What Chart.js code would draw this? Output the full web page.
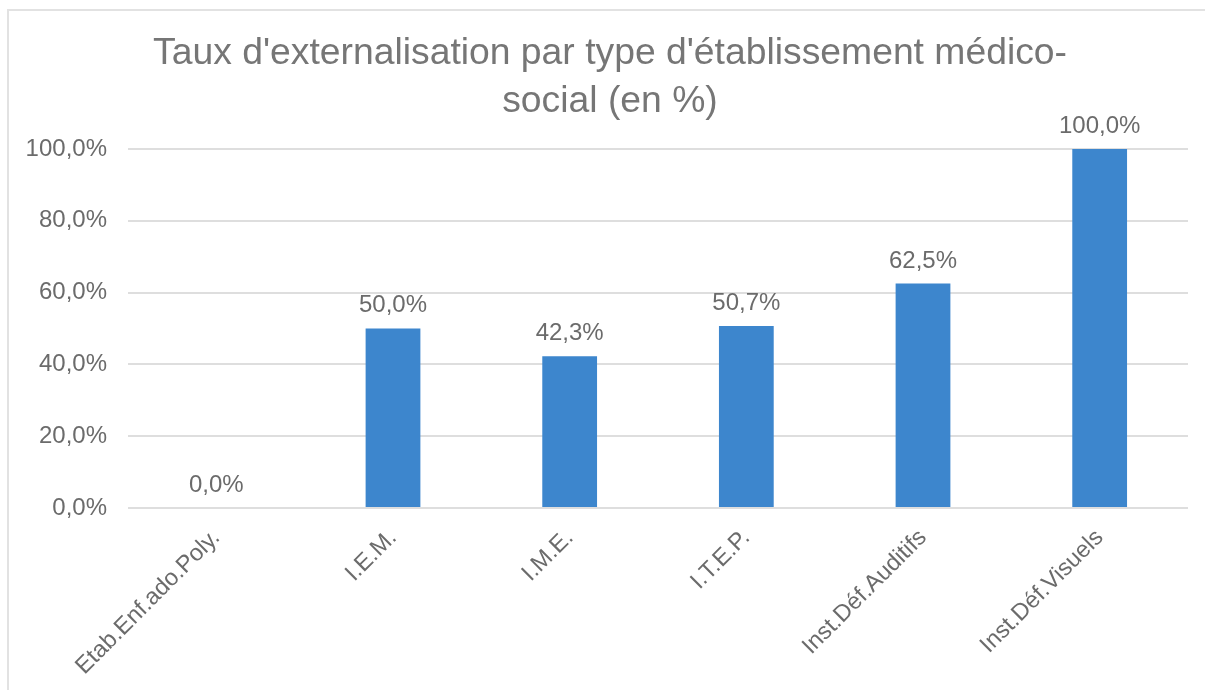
<!DOCTYPE html>
<html>
<head>
<meta charset="utf-8">
<script src="https://cdn.jsdelivr.net/npm/chart.js@4.4.1/dist/chart.umd.min.js"></script>
<style>
  html, body { margin: 0; padding: 0; background: #ffffff; overflow: hidden; }
  #frame { position: absolute; left: 7px; top: 9px; width: 1220px; height: 720px; border: 2px solid #e2e2e2; box-sizing: border-box; }
  #c { position: absolute; left: 0; top: 0; }
</style>
</head>
<body>
<div id="frame"></div>
<canvas id="c" width="1205" height="690"></canvas>
<script>
const categories = ["Etab.Enf.ado.Poly.", "I.E.M.", "I.M.E.", "I.T.E.P.", "Inst.Déf.Auditifs", "Inst.Déf.Visuels"];
const values = [0.0, 50.0, 42.3, 50.7, 62.5, 100.0];
const yTicks = [0, 20, 40, 60, 80, 100];
const titleLines = ["Taux d'externalisation par type d'établissement médico-", "social (en %)"];

const FONT = "'Liberation Sans', Arial, sans-serif";
const fmt = v => v.toFixed(1).replace('.', ',') + '%';

const valueLabels = {
  id: 'valueLabels',
  afterDatasetsDraw(chart) {
    const ctx = chart.ctx;
    const meta = chart.getDatasetMeta(0);
    ctx.save();
    ctx.font = "24px " + FONT;
    ctx.fillStyle = '#6b6b6b';
    ctx.textAlign = 'center';
    ctx.textBaseline = 'alphabetic';
    meta.data.forEach((bar, i) => {
      ctx.fillText(fmt(values[i]), bar.x, bar.y - 16);
    });
    ctx.restore();
  }
};

// centre the title over the whole chart frame (as in the original)
const titleShift = {
  id: 'titleShift',
  afterLayout(chart) {
    const t = chart.titleBlock;
    if (t) { t.left = 32; t.right = 1188; }
  }
};

new Chart(document.getElementById('c'), {
  type: 'bar',
  data: {
    labels: categories,
    datasets: [{
      data: values,
      backgroundColor: '#3d86cd',
      borderWidth: 0,
      categoryPercentage: 1.0,
      barPercentage: 0.31
    }]
  },
  options: {
    responsive: false,
    animation: false,
    devicePixelRatio: 1,
    layout: { padding: { top: 10, right: 17, bottom: 0, left: 0 } },
    plugins: {
      legend: { display: false },
      tooltip: { enabled: false },
      title: {
        display: true,
        text: titleLines,
        color: '#767676',
        font: { family: FONT, size: 37.3, weight: 'normal', lineHeight: 1.3 },
        padding: { top: 19, bottom: 23 }
      }
    },
    scales: {
      x: {
        grid: { display: false, drawTicks: false },
        border: { display: false },
        ticks: {
          color: '#6b6b6b',
          font: { family: FONT, size: 23.5 },
          minRotation: 45,
          maxRotation: 45,
          padding: 16,
          autoSkip: false
        },
        afterFit(scale) { scale.height = 182; }
      },
      y: {
        min: 0,
        max: 100,
        afterBuildTicks(scale) { scale.ticks = yTicks.map(v => ({ value: v })); },
        grid: { color: '#dedede', lineWidth: 2, drawTicks: false },
        border: { display: false },
        ticks: {
          color: '#6b6b6b',
          font: { family: FONT, size: 24 },
          padding: 21,
          callback: v => fmt(v)
        },
        afterFit(scale) { scale.width = 128; }
      }
    }
  },
  plugins: [valueLabels, titleShift]
});
</script>
</body>
</html>
